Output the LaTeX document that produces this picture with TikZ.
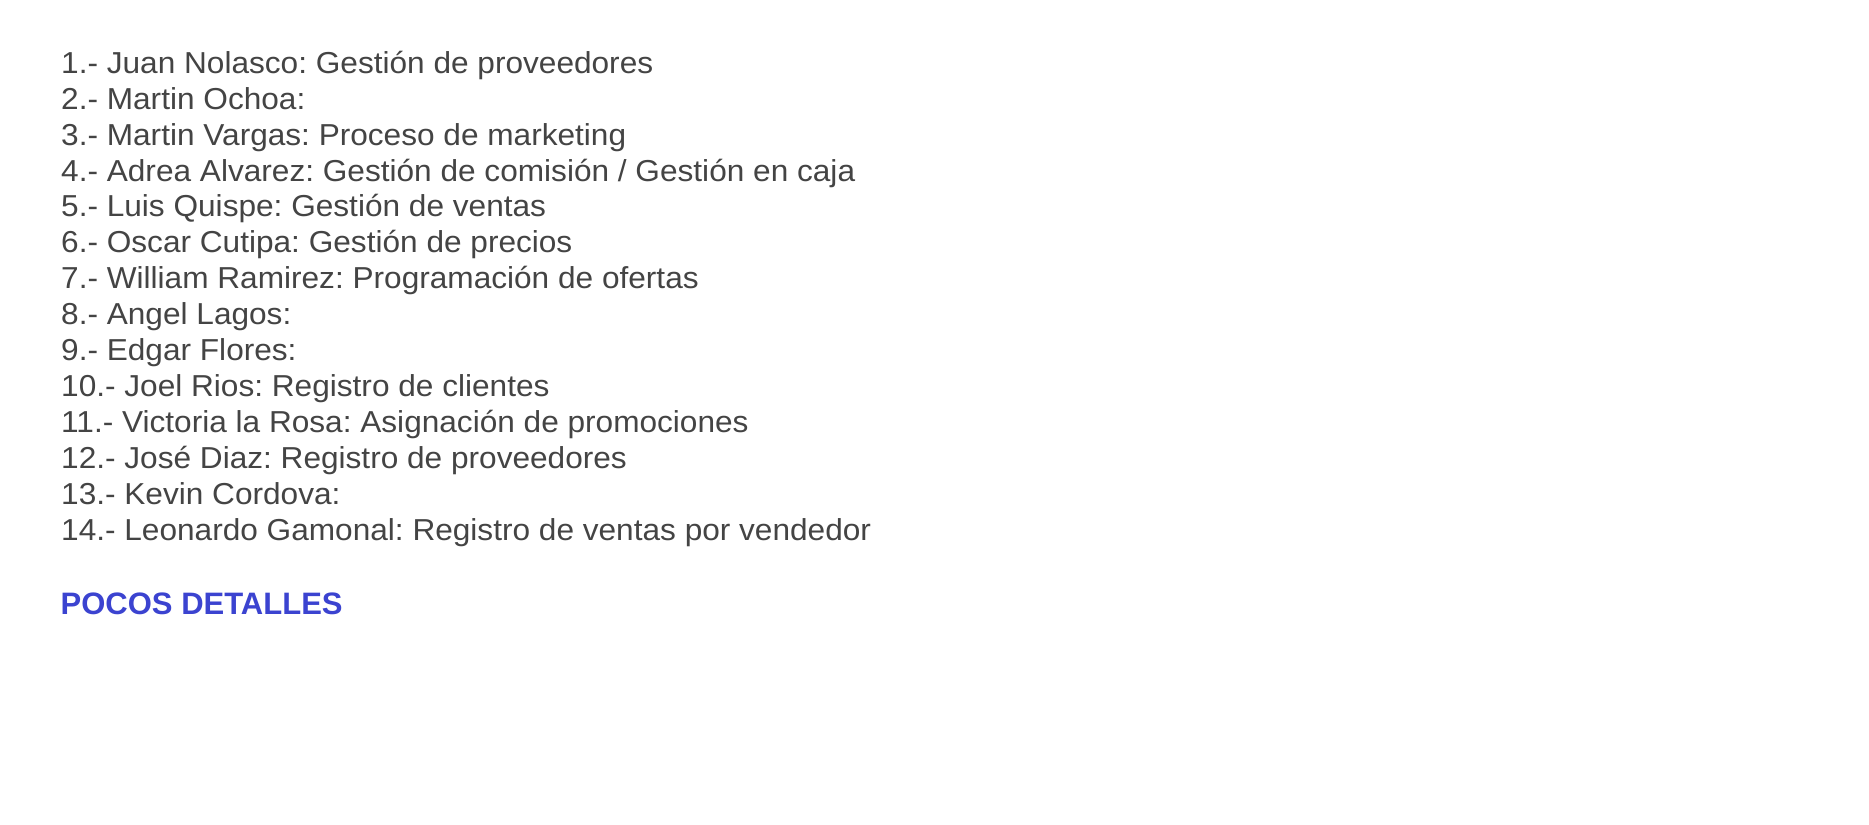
\documentclass[tikz,border=0pt]{standalone}
\usepackage{fontspec}
\setmainfont{Liberation Sans}
\newfontfamily\itemfont[FakeStretch=1.043]{Liberation Sans}
\frenchspacing
\definecolor{txtgray}{HTML}{444444}
\definecolor{txtblue}{HTML}{3B43D0}
\tikzset{
  item/.style={anchor=base west, inner sep=0pt, text=txtgray, font=\itemfont\fontsize{30.3bp}{36bp}\selectfont},
  headline/.style={anchor=base west, inner sep=0pt, text=txtblue, font=\fontsize{31bp}{36bp}\selectfont\bfseries}
}
\begin{document}
\begin{tikzpicture}[x=1bp,y=-1bp]
\useasboundingbox (0,0) rectangle (1869,825);
\fill[white] (0,0) rectangle (1869,825);
\node[item] (l1)  at (61,73.3)  {1.- Juan Nolasco: Gestión de proveedores};
\node[item] (l2)  at (61,109.2) {2.- Martin Ochoa:};
\node[item] (l3)  at (61,145.1) {3.- Martin Vargas: Proceso de marketing};
\node[item] (l4)  at (61,181.0) {4.- Adrea Alvarez: Gestión de comisión / Gestión en caja};
\node[item] (l5)  at (61,216.9) {5.- Luis Quispe: Gestión de ventas};
\node[item] (l6)  at (61,252.8) {6.- Oscar Cutipa: Gestión de precios};
\node[item] (l7)  at (61,288.7) {7.- William Ramirez: Programación de ofertas};
\node[item] (l8)  at (61,324.6) {8.- Angel Lagos:};
\node[item] (l9)  at (61,360.5) {9.- Edgar Flores:};
\node[item] (l10) at (61,396.4) {10.- Joel Rios: Registro de clientes};
\node[item] (l11) at (61,432.3) {11.- Victoria la Rosa: Asignación de promociones};
\node[item] (l12) at (61,468.2) {12.- José Diaz: Registro de proveedores};
\node[item] (l13) at (61,504.1) {13.- Kevin Cordova:};
\node[item] (l14) at (61,540.0) {14.- Leonardo Gamonal: Registro de ventas por vendedor};
\node[headline] (pd) at (60.5,614) {POCOS DETALLES};
\end{tikzpicture}
\end{document}
